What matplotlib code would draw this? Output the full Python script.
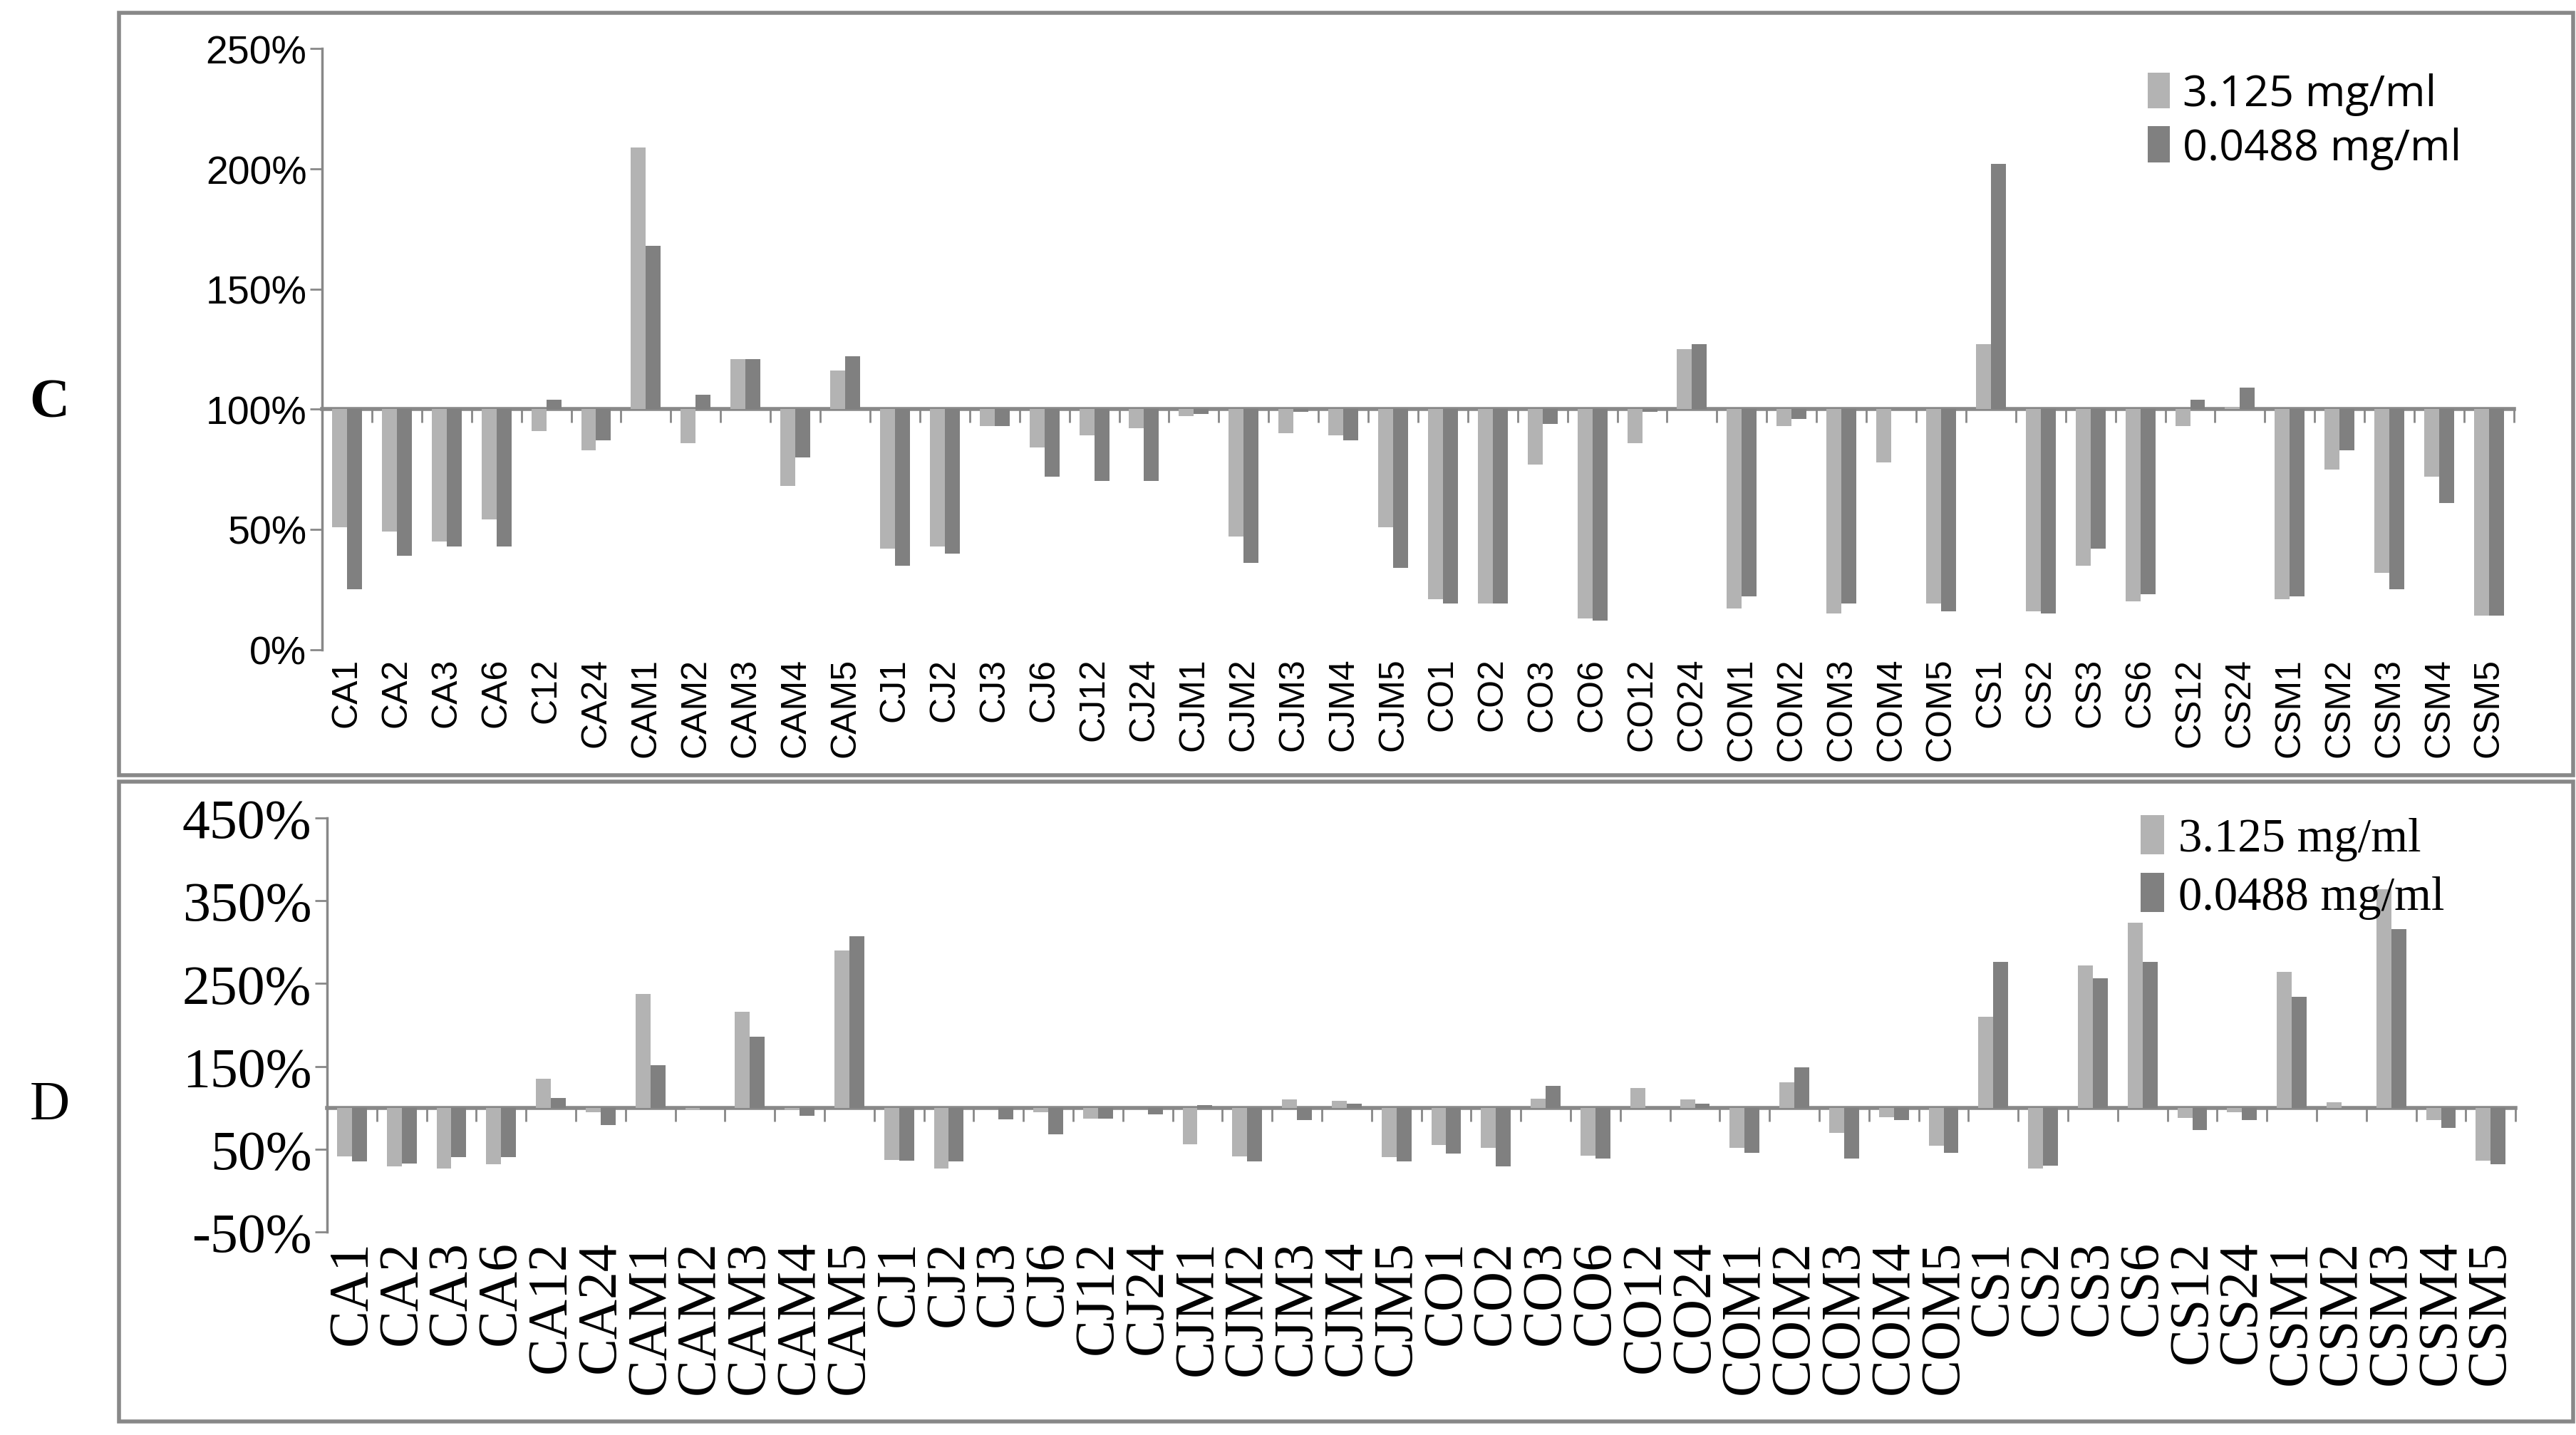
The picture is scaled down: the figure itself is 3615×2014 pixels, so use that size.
import matplotlib
matplotlib.use("Agg")
import matplotlib.pyplot as plt
import numpy as np
from matplotlib.patches import Rectangle

labels_c = ["CA1", "CA2", "CA3", "CA6", "C12", "CA24", "CAM1", "CAM2", "CAM3", "CAM4", "CAM5",
            "CJ1", "CJ2", "CJ3", "CJ6", "CJ12", "CJ24", "CJM1", "CJM2", "CJM3", "CJM4", "CJM5",
            "CO1", "CO2", "CO3", "CO6", "CO12", "CO24", "COM1", "COM2", "COM3", "COM4", "COM5",
            "CS1", "CS2", "CS3", "CS6", "CS12", "CS24", "CSM1", "CSM2", "CSM3", "CSM4", "CSM5"]
labels_d = ["CA12" if l == "C12" else l for l in labels_c]

# panel C (% of control)
c_high = [51, 49, 45, 54, 91, 83, 209, 86, 121, 68, 116,
          42, 43, 93, 84, 89, 92, 97, 47, 90, 89, 51,
          21, 19, 77, 13, 86, 125, 17, 93, 15, 78, 19,
          127, 16, 35, 20, 93, 101, 21, 75, 32, 72, 14]
c_low = [25, 39, 43, 43, 104, 87, 168, 106, 121, 80, 122,
         35, 40, 93, 72, 70, 70, 98, 36, 99, 87, 34,
         19, 19, 94, 12, 99, 127, 22, 96, 19, 100, 16,
         202, 15, 42, 23, 104, 109, 22, 83, 25, 61, 14]

# panel D (% of control)
d_high = [41, 29, 27, 32, 135, 95, 237, 97, 216, 97, 290,
          37, 27, 100, 95, 87, 100, 56, 41, 110, 108, 40,
          55, 52, 111, 42, 124, 110, 52, 131, 70, 89, 54,
          210, 27, 272, 323, 88, 95, 264, 107, 364, 85, 36]
d_low = [35, 33, 40, 40, 112, 79, 151, 100, 186, 90, 307,
         36, 35, 86, 68, 87, 92, 103, 35, 85, 105, 35,
         45, 29, 126, 39, 100, 105, 46, 149, 39, 85, 46,
         276, 30, 256, 276, 73, 85, 234, 100, 316, 76, 32]

light = "#b3b3b3"
dark = "#808080"
axis_grey = "#888888"

fig = plt.figure(figsize=(36.16, 20.15), dpi=100)
W, H = 1560.0, 870.0


def draw(ax, labels, high, low, ymin, ymax, yticks, tick_font, leg_font, yfs, xfs, legfs, leg_loc):
    x = np.arange(len(labels))
    bw = 0.3
    ax.bar(x - bw / 2, np.array(high) - 100, bw, bottom=100, color=light, label="3.125 mg/ml")
    ax.bar(x + bw / 2, np.array(low) - 100, bw, bottom=100, color=dark, label="0.0488 mg/ml")
    ax.set_xlim(-0.5, len(labels) - 0.5)
    ax.set_ylim(ymin, ymax)
    ax.set_yticks(yticks)
    ax.set_yticklabels([f"{t}%" for t in yticks], fontfamily=tick_font, fontsize=yfs)
    ax.set_xticks(x)
    ax.set_xticklabels(labels, rotation=90, fontfamily=tick_font, fontsize=xfs)
    ax.tick_params(axis="x", length=0, pad=8)
    ax.tick_params(axis="y", length=12, width=2, color=axis_grey)
    for s in ["top", "right", "bottom"]:
        ax.spines[s].set_visible(False)
    ax.spines["left"].set_color(axis_grey)
    ax.spines["left"].set_linewidth(2.5)
    # category axis crossing at 100%
    frac = (100 - ymin) / (ymax - ymin)
    sec = ax.secondary_xaxis(frac)
    sec.set_xticks(np.arange(len(labels) + 1) - 0.5)
    sec.set_xticklabels([])
    sec.tick_params(length=14, width=2, color=axis_grey, direction="out")
    sec.spines["bottom"].set_color(axis_grey)
    sec.spines["bottom"].set_linewidth(4)
    ax.legend(loc=leg_loc, frameon=False, handlelength=0.5, handleheight=0.9,
              handletextpad=0.3, borderaxespad=0.2, labelspacing=0.25,
              prop={"family": leg_font, "size": legfs})


# frames
fig.add_artist(Rectangle((72 / W, 1 - 470 / H), (1558 - 72) / W, (470 - 8) / H,
                         transform=fig.transFigure, fill=False, edgecolor=axis_grey, lw=4))
fig.add_artist(Rectangle((72 / W, 1 - 862 / H), (1558 - 72) / W, (862 - 474) / H,
                         transform=fig.transFigure, fill=False, edgecolor=axis_grey, lw=4))

ax1 = fig.add_axes([195 / W, 1 - 394 / H, (1522 - 195) / W, (394 - 30) / H])
draw(ax1, labels_c, c_high, c_low, 0, 250, list(range(0, 251, 50)),
     "Liberation Sans", "Open Sans", 40, 36, 44, (0.825, 0.77))

ax2 = fig.add_axes([198 / W, 1 - 747 / H, (1523 - 198) / W, (747 - 496) / H])
draw(ax2, labels_d, d_high, d_low, -50, 450, list(range(-50, 451, 100)),
     "Liberation Serif", "Liberation Serif", 56, 56, 48, (0.82, 0.71))

fig.text(30 / W, 1 - 245 / H, "C", fontfamily="Liberation Serif", fontsize=56,
         fontweight="bold", ha="center", va="center")
fig.text(30 / W, 1 - 670 / H, "D", fontfamily="Liberation Serif", fontsize=56,
         ha="center", va="center")

fig.savefig("out.png", dpi=100)
